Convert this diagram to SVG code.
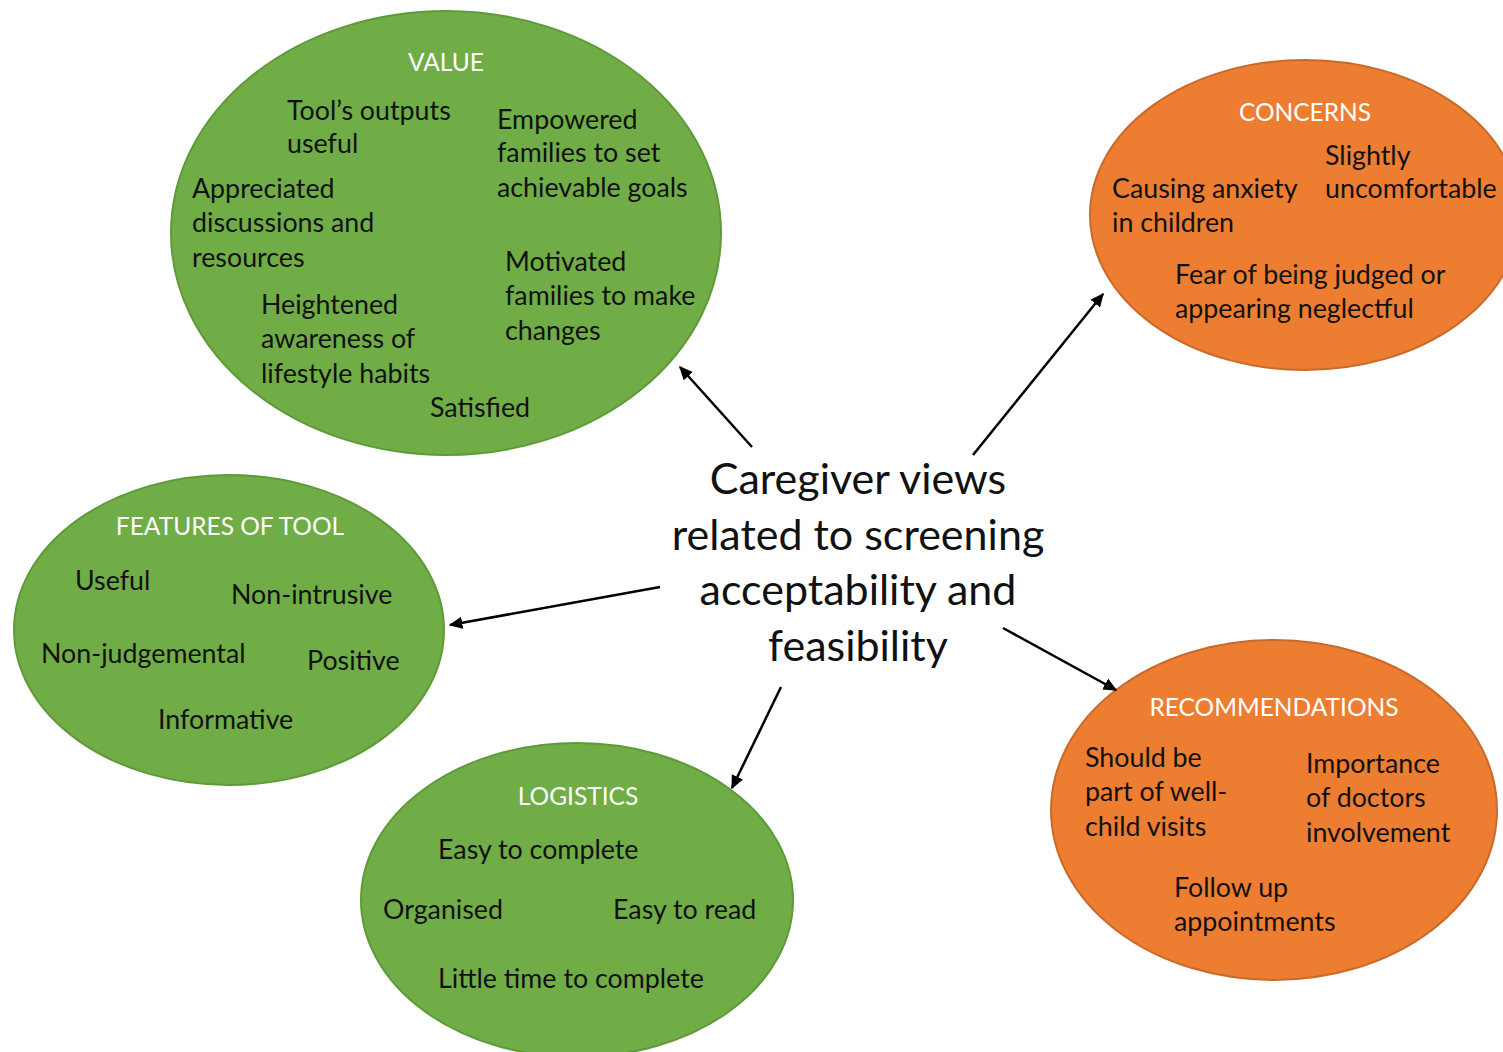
<svg xmlns="http://www.w3.org/2000/svg" width="1503" height="1052" viewBox="0 0 1503 1052">
<defs>
<style>
.g{fill:#70AD47;stroke:#5E9A3A;stroke-width:2}
.o{fill:#ED7D31;stroke:#C9692A;stroke-width:2}
.t{font-family:Lato,"Open Sans",sans-serif;font-size:24.5px;fill:#FFFFFF;text-anchor:middle}
.b{font-family:Lato,"Open Sans",sans-serif;font-size:26.8px;fill:#111111}
.c{font-family:Lato,"Open Sans",sans-serif;font-size:43px;fill:#111111;text-anchor:middle}
.a{stroke:#000;stroke-width:2.5;fill:none;marker-end:url(#ah)}
</style>
<marker id="ah" viewBox="0 0 10 10" refX="9" refY="5" markerWidth="5.5" markerHeight="5.5" orient="auto" markerUnits="strokeWidth">
<path d="M0,0.5 L10,5 L0,9.5 z" fill="#000"/>
</marker>
</defs>
<rect width="1503" height="1052" fill="#FFFFFF"/>
<g id="value">
<ellipse class="g" cx="446" cy="233" rx="275" ry="222"/>
<text class="t" x="446" y="71">VALUE</text>
<text class="b" x="287" y="120">Tool’s outputs</text>
<text class="b" x="287" y="153">useful</text>
<text class="b" x="497" y="129">Empowered</text>
<text class="b" x="497" y="162">families to set</text>
<text class="b" x="497" y="197">achievable goals</text>
<text class="b" x="192" y="198">Appreciated</text>
<text class="b" x="192" y="232">discussions and</text>
<text class="b" x="192" y="267">resources</text>
<text class="b" x="505" y="271">Motivated</text>
<text class="b" x="505" y="305">families to make</text>
<text class="b" x="505" y="340">changes</text>
<text class="b" x="261" y="314">Heightened</text>
<text class="b" x="261" y="348">awareness of</text>
<text class="b" x="261" y="383">lifestyle habits</text>
<text class="b" x="430" y="417">Satisfied</text>
</g>
<g id="concerns">
<ellipse class="o" cx="1305" cy="215" rx="215" ry="155"/>
<text class="t" x="1305" y="121">CONCERNS</text>
<text class="b" x="1325" y="165">Slightly</text>
<text class="b" x="1325" y="198">uncomfortable</text>
<text class="b" x="1112" y="198">Causing anxiety</text>
<text class="b" x="1112" y="232">in children</text>
<text class="b" x="1175" y="284">Fear of being judged or</text>
<text class="b" x="1175" y="318">appearing neglectful</text>
</g>
<g id="features">
<ellipse class="g" cx="229" cy="630" rx="215" ry="155"/>
<text class="t" x="230" y="535">FEATURES OF TOOL</text>
<text class="b" x="75" y="590">Useful</text>
<text class="b" x="231" y="604">Non-intrusive</text>
<text class="b" x="41" y="663">Non-judgemental</text>
<text class="b" x="307" y="670">Positive</text>
<text class="b" x="158" y="729">Informative</text>
</g>
<g id="logistics">
<ellipse class="g" cx="577" cy="900" rx="216" ry="157"/>
<text class="t" x="578" y="805">LOGISTICS</text>
<text class="b" x="438" y="859">Easy to complete</text>
<text class="b" x="383" y="919">Organised</text>
<text class="b" x="613" y="919">Easy to read</text>
<text class="b" x="438" y="988">Little time to complete</text>
</g>
<g id="recommendations">
<ellipse class="o" cx="1274" cy="810" rx="223" ry="170"/>
<text class="t" x="1274" y="716">RECOMMENDATIONS</text>
<text class="b" x="1085" y="767">Should be</text>
<text class="b" x="1085" y="801">part of well-</text>
<text class="b" x="1085" y="836">child visits</text>
<text class="b" x="1306" y="773">Importance</text>
<text class="b" x="1306" y="807">of doctors</text>
<text class="b" x="1306" y="842">involvement</text>
<text class="b" x="1174" y="897">Follow up</text>
<text class="b" x="1174" y="931">appointments</text>
</g>
<g id="center">
<text class="c" x="858" y="494">Caregiver views</text>
<text class="c" x="858" y="550">related to screening</text>
<text class="c" x="858" y="605">acceptability and</text>
<text class="c" x="858" y="661">feasibility</text>
</g>
<g id="connectors">
<line class="a" x1="752" y1="447" x2="680" y2="367"/>
<line class="a" x1="973" y1="455" x2="1103" y2="294"/>
<line class="a" x1="660" y1="587" x2="450" y2="625"/>
<line class="a" x1="781" y1="687" x2="732" y2="788"/>
<line class="a" x1="1003" y1="628" x2="1116" y2="690"/>
</g>
</svg>
